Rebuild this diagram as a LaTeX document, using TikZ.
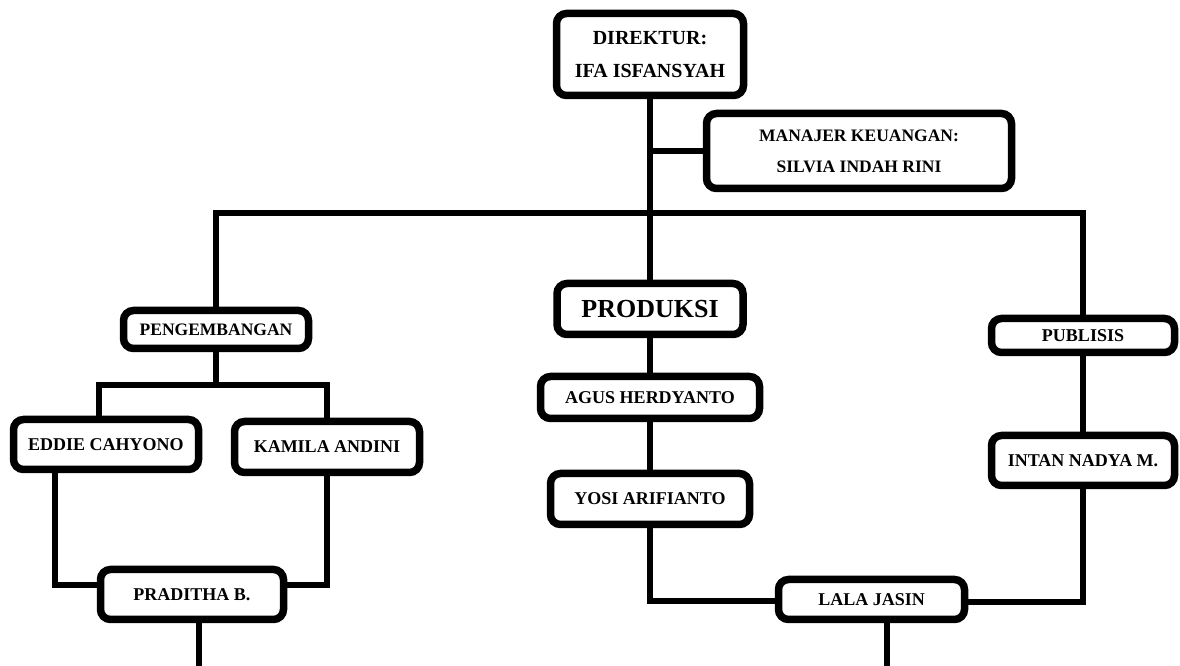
\documentclass[tikz,border=0pt]{standalone}
\usepackage{fontspec}
\setmainfont{Liberation Serif}
\usetikzlibrary{positioning}

\begin{document}
\begin{tikzpicture}[x=1pt,y=1pt,line width=6pt,on grid]
		\tikzstyle{box}=[draw, line width=7.5pt, rounded corners=10pt, fill=white, inner sep=0pt, align=center, font=\bfseries\fontsize{18}{30}\selectfont]
		\useasboundingbox (0,0) rectangle (1180,666);
		\node[box, minimum width=187pt, minimum height=82pt, font=\bfseries\fontsize{20}{33}\selectfont] (0) at (650,611.5) {DIREKTUR:\\IFA ISFANSYAH};
		\node[box, minimum width=305pt, minimum height=75pt, font=\bfseries\fontsize{17.5}{31}\selectfont] (1) [below right=96.5pt and 209pt of 0] {MANAJER KEUANGAN:\\SILVIA INDAH RINI};
		\node[box, minimum width=186pt, minimum height=51pt, font=\bfseries\fontsize{26}{30}\selectfont] (2) [below=254.5pt of 0] {PRODUKSI};
		\node[box, minimum width=219pt, minimum height=42pt] (3) [below=88.5pt of 2] {AGUS HERDYANTO};
		\node[box, minimum width=199pt, minimum height=51pt] (4) [below=101.5pt of 3] {YOSI ARIFIANTO};
		\node[box, minimum width=185pt, minimum height=38pt, font=\bfseries\fontsize{17.5}{30}\selectfont] (5) [below left=20.5pt and 434pt of 2] {PENGEMBANGAN};
		\node[box, minimum width=185pt, minimum height=50pt] (6) [below left=115pt and 110pt of 5] {EDDIE CAHYONO};
		\node[box, minimum width=185pt, minimum height=51pt] (7) [below right=117.5pt and 111pt of 5] {KAMILA ANDINI};
		\node[box, minimum width=183pt, minimum height=50pt] (8) [below right=150pt and 86pt of 6] {PRADITHA B.};
		\node[box, minimum width=183pt, minimum height=34pt] (9) [below right=26.5pt and 433pt of 2] {PUBLISIS};
		\node[box, minimum width=183pt, minimum height=50pt] (10) [below=125pt of 9] {INTAN NADYA M.};
		\node[box, minimum width=186pt, minimum height=40pt] (11) [below left=139pt and 211.5pt of 10] {LALA JASIN};
		\coordinate (t) at (650,453);
		\coordinate (p) at (216,281);
		\coordinate (e1) at (199,0);
		\coordinate (e2) at (887,0);
		\draw (0.south) -- (2.north);
		\draw (1.west) -- (1.west -| 0.south);
		\draw (5.north) |- (t) -| (9.north);
		\draw (5.south) -- (p);
		\draw ([xshift=-7pt]6.north) |- (p) -| (7.north);
		\draw ([xshift=-51pt]6.south) |- ([yshift=9.5pt]8.west);
		\draw (7.south) |- ([yshift=9.5pt]8.east);
		\draw ([xshift=7pt]8.south) -- (e1);
		\draw (2.south) -- (3.north);
		\draw (3.south) -- (4.north);
		\draw (4.south) |- ([yshift=-2pt]11.west);
		\draw (9.south) -- (10.north);
		\draw (10.south) |- ([yshift=-3pt]11.east);
		\draw ([xshift=15.5pt]11.south) -- (e2);
	\end{tikzpicture}
\end{document}
